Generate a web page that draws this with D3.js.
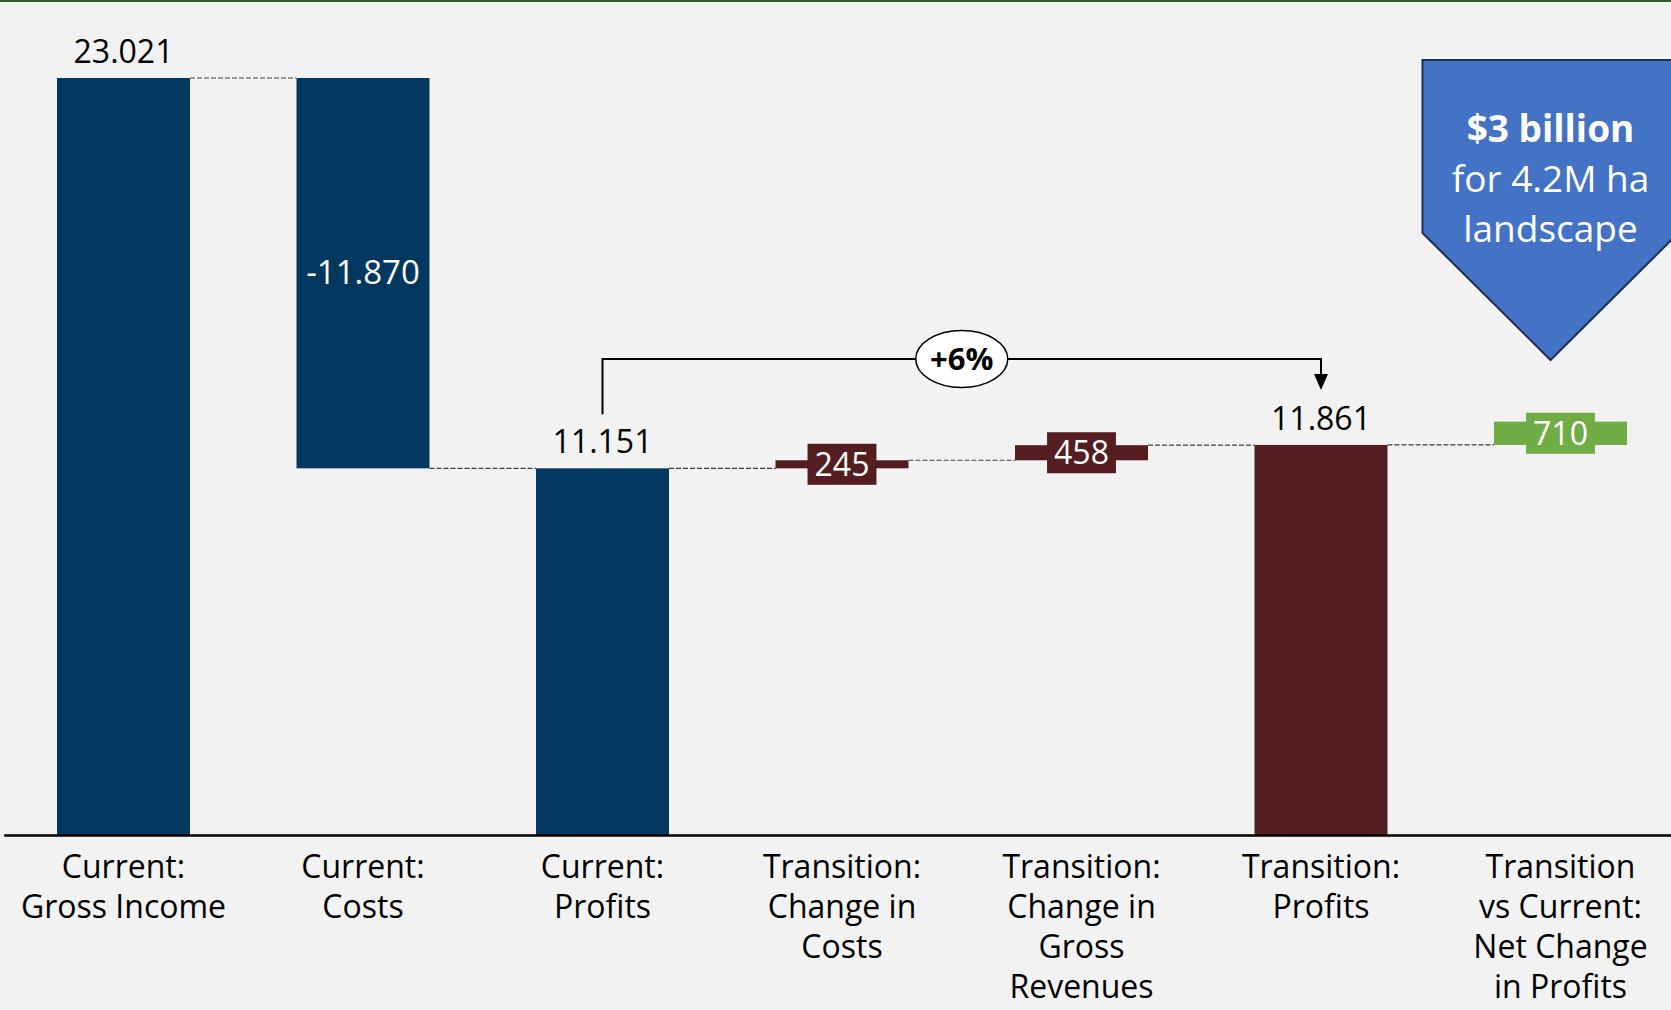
<!DOCTYPE html>
<html>
<head>
<meta charset="utf-8">
<script src="https://cdn.jsdelivr.net/npm/d3@7"></script>
<style>
  body { margin: 0; background: #f2f2f2; }
  svg { display: block; }
</style>
</head>
<body>
<svg id="chart" width="1671" height="1010"></svg>
<script>
const categories = [
    ["Current:", "Gross Income"],
    ["Current:", "Costs"],
    ["Current:", "Profits"],
    ["Transition:", "Change in", "Costs"],
    ["Transition:", "Change in", "Gross", "Revenues"],
    ["Transition:", "Profits"],
    ["Transition", "vs Current:", "Net Change", "in Profits"]
]
const values = [23021, -11870, 11151, 245, 458, 11861, 710]
const kinds = ["total", "step", "total", "step", "step", "total", "step"]
const barColors = ["#02375f", "#02375f", "#02375f", "#541e21", "#541e21", "#541e21", "#70ad47"]
const labelPlace = ["above", "inside", "above", "box", "box", "above", "box"]
const changeLabel = "+6%"
const calloutLines = ["$3 billion", "for 4.2M ha", "landscape"]

const FONT = '"Open Sans", "Noto Sans", sans-serif'
let width = 1671, height = 1010
let baseY = 835

let svg = d3.select("#chart")

// background + green rule on top
svg.append("rect").attr("width", width).attr("height", height).attr("fill", "#f2f2f2")
svg.append("rect").attr("width", width).attr("height", 2).attr("fill", "#2d5a2d")

// running totals for the waterfall
let running = 0
const bars = values.map(function (v, i) {
    let start, end
    if (kinds[i] == "total") { start = 0; end = v }
    else { start = running; end = running + v }
    running = end
    return {i: i, value: v, start: start, end: end}
})

const x = d3.scaleBand()
    .domain(d3.range(categories.length))
    .range([3.75, 1680.25])
    .paddingInner(0.4447)
    .paddingOuter(0.4447 / 2)

const y = d3.scaleLinear()
    .domain([0, d3.max(bars, d => Math.max(d.start, d.end))])
    .range([baseY, 78])

const bw = x.bandwidth()
const fmt = d3.formatLocale({decimal: ",", thousands: ".", grouping: [3], currency: ["", ""], minus: "-"}).format(",")

// dashed connectors
svg.append("g")
    .selectAll("line")
    .data(bars.slice(0, -1))
    .join("line")
    .attr("x1", d => x(d.i) + bw)
    .attr("x2", d => x(d.i + 1))
    .attr("y1", d => y(d.end))
    .attr("y2", d => y(d.end))
    .attr("stroke", "#3d3d3d")
    .attr("stroke-width", 1.2)
    .attr("stroke-dasharray", "5,2")

// bars
svg.append("g")
    .selectAll("rect")
    .data(bars)
    .join("rect")
    .attr("x", d => x(d.i))
    .attr("width", bw)
    .attr("y", d => y(Math.max(d.start, d.end)))
    .attr("height", d => Math.abs(y(d.start) - y(d.end)))
    .attr("fill", (d, i) => barColors[i])

// axis with multi-line category labels
let axisG = svg.append("g")
    .attr("transform", `translate(0,${baseY})`)
    .call(d3.axisBottom(x).tickSize(0).tickSizeOuter(0).tickFormat(""))
axisG.attr("font-family", FONT).attr("font-size", 32)
axisG.select(".domain").attr("stroke", "#000").attr("stroke-width", 2.5)
axisG.selectAll(".tick text")
    .attr("y", null).attr("dy", null)
    .attr("fill", "#000")
    .each(function (d) {
        d3.select(this).selectAll("tspan")
            .data(categories[d])
            .join("tspan")
            .attr("x", 0)
            .attr("y", (t, k) => 43 + k * 40)
            .text(t => t)
    })

// value labels
let labels = svg.append("g").attr("font-family", FONT).attr("font-size", 32).attr("text-anchor", "middle")
bars.forEach(function (d, i) {
    let cx = x(d.i) + bw / 2
    let top = y(Math.max(d.start, d.end))
    let mid = (y(d.start) + y(d.end)) / 2
    let txt = fmt(d.value)
    if (labelPlace[i] == "above") {
        labels.append("text").attr("x", cx).attr("y", top - 15).attr("fill", "#000").text(txt)
    } else if (labelPlace[i] == "inside") {
        labels.append("text").attr("x", cx).attr("y", mid + 11).attr("fill", "#fff").attr("font-size", 33).text(txt)
    } else {
        let g = labels.append("g")
        let box = g.append("rect").attr("fill", barColors[i])
        let t = g.append("text").attr("x", cx).attr("y", mid + 11.5).attr("fill", "#fff").text(txt)
        let tw = t.node().getComputedTextLength()
        box.attr("x", cx - tw / 2 - 7).attr("width", tw + 14)
            .attr("y", mid - 20.5).attr("height", 41)
    }
})

// +6% bracket between current and transition profits
let xa = x(2) + bw / 2, xb = x(5) + bw / 2
let bracketY = 359
let bracket = svg.append("g")
bracket.append("path")
    .attr("d", `M${xa},${y(values[2]) - 54}V${bracketY}H${xb}V${y(values[5]) - 70}`)
    .attr("fill", "none")
    .attr("stroke", "#000")
    .attr("stroke-width", 2)
bracket.append("path")
    .attr("d", `M${xb - 7},${y(values[5]) - 71}L${xb + 7},${y(values[5]) - 71}L${xb},${y(values[5]) - 55}Z`)
    .attr("fill", "#000")
bracket.append("ellipse")
    .attr("cx", (xa + xb) / 2).attr("cy", bracketY)
    .attr("rx", 46).attr("ry", 28.5)
    .attr("fill", "#fff").attr("stroke", "#000").attr("stroke-width", 1.5)
bracket.append("text")
    .attr("x", (xa + xb) / 2).attr("y", bracketY + 11)
    .attr("text-anchor", "middle")
    .attr("font-family", FONT).attr("font-size", 31).attr("font-weight", "bold")
    .text(changeLabel)

// callout arrow
let cc = x(6) + bw / 2 - 10
let callout = svg.append("g")
callout.append("path")
    .attr("d", `M${cc - 128},60H${cc + 128}V233L${cc},360L${cc - 128},233Z`)
    .attr("fill", "#4472c4")
    .attr("stroke", "#1f2f50")
    .attr("stroke-width", 2)
callout.selectAll("text")
    .data(calloutLines)
    .join("text")
    .attr("x", cc)
    .attr("y", (d, i) => 142 + i * 50)
    .attr("text-anchor", "middle")
    .attr("font-family", FONT)
    .attr("font-size", 37)
    .attr("font-weight", (d, i) => i == 0 ? "bold" : "normal")
    .attr("fill", "#fff")
    .text(d => d)
</script>
</body>
</html>
